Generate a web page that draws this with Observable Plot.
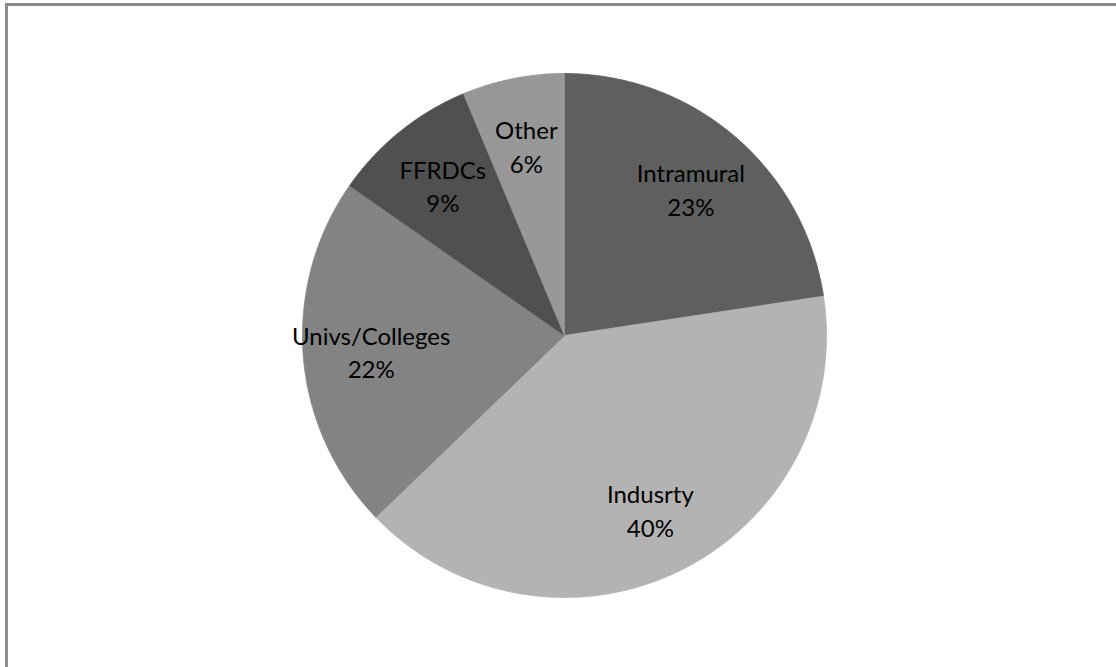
<!DOCTYPE html>
<html>
<head>
<meta charset="utf-8">
<script src="https://cdn.jsdelivr.net/npm/d3@7"></script>
<script src="https://cdn.jsdelivr.net/npm/@observablehq/plot@0.6"></script>
<style>
  html, body { margin: 0; padding: 0; background: #fff; }
  #wrap { position: relative; width: 1116px; height: 667px; overflow: hidden; }
  #frame { position: absolute; left: 5px; top: 3px; width: 1200px; height: 800px;
           border-top: 3px solid #8c8c8c; border-left: 3px solid #8c8c8c; box-sizing: border-box; }
  #chart { position: absolute; left: 0; top: 0; }
</style>
</head>
<body>
<div id="wrap"><div id="frame"></div><div id="chart"></div></div>
<script>
// Data (clockwise from 12 o'clock)
const categories = ["Intramural", "Indusrty", "Univs/Colleges", "FFRDCs", "Other"];
const shares = [22.6, 40.2, 21.9, 9.0, 6.3];
const percentLabels = ["23%", "40%", "22%", "9%", "6%"];
const colors = ["#5f5f5f", "#b3b3b3", "#838383", "#505050", "#979797"];

const total = d3.sum(shares);
let acc = 0;
const slices = categories.map((name, i) => {
  const a0 = acc / total * 2 * Math.PI;
  acc += shares[i];
  const a1 = acc / total * 2 * Math.PI;
  return { name, a0, a1, label: name + "\n" + percentLabels[i] };
});

// polygon vertices in unit-circle coordinates (y up)
const pts = [];
for (const s of slices) {
  pts.push({ name: s.name, x: 0, y: 0 });
  const n = Math.max(8, Math.ceil((s.a1 - s.a0) / (Math.PI / 180)));
  for (let k = 0; k <= n; k++) {
    const a = s.a0 + (s.a1 - s.a0) * k / n;
    pts.push({ name: s.name, x: Math.sin(a), y: Math.cos(a) });
  }
  pts.push({ name: s.name, x: 0, y: 0 });
}

const labelR = 0.74;
const labels = slices.map(s => {
  const m = (s.a0 + s.a1) / 2;
  return { label: s.label, x: labelR * Math.sin(m), y: labelR * Math.cos(m) };
});

const chart = Plot.plot({
  width: 1116,
  height: 667,
  marginLeft: 302,
  marginRight: 290,
  marginTop: 73,
  marginBottom: 70,
  x: { domain: [-1, 1], axis: null },
  y: { domain: [-1, 1], axis: null },
  color: { domain: categories, range: colors },
  style: { background: "transparent", fontFamily: "Lato, sans-serif" },
  marks: [
    Plot.line(pts, { x: "x", y: "y", z: "name", fill: "name", stroke: "name", strokeWidth: 0.8, curve: "linear" }),
    Plot.text(labels, { x: "x", y: "y", text: "label", fontSize: 24, lineHeight: 1.4, fill: "#000", lineAnchor: "middle" })
  ]
});
document.getElementById("chart").appendChild(chart);
</script>
</body>
</html>
